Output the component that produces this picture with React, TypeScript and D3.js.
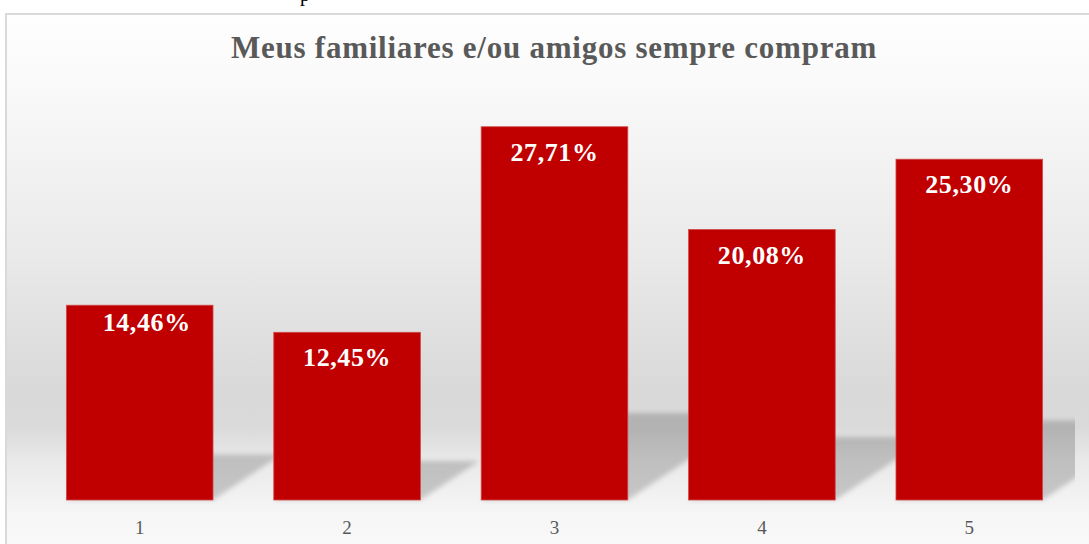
import React from "react";
import * as d3 from "d3";

const categories = ["1", "2", "3", "4", "5"];
const values = [14.46, 12.45, 27.71, 20.08, 25.3];
const valueLabels = ["14,46%", "12,45%", "27,71%", "20,08%", "25,30%"];
const title = "Meus familiares e/ou amigos sempre compram";

const W = 1089;
const H = 544;
const baseY = 500;

export default function App() {
  const x = d3
    .scaleBand<string>()
    .domain(categories)
    .range([36, 1073])
    .paddingInner(0.293)
    .paddingOuter(0.1465);
  const y = d3.scaleLinear().domain([0, 30]).range([baseY, baseY - 30 * 13.47]);
  const bw = x.bandwidth();

  const shadowPath = (i: number) => {
    const x0 = x(categories[i]) as number;
    const x1 = x0 + bw;
    const h = baseY - y(values[i]);
    const sh = h * 0.233;
    const dx = sh * 1.5;
    const p = d3.path();
    p.moveTo(x0, baseY);
    p.lineTo(x1, baseY);
    p.lineTo(x1 + dx, baseY - sh);
    p.lineTo(x0 + dx, baseY - sh);
    p.closePath();
    return p.toString();
  };

  const serif = "'Liberation Serif', 'Times New Roman', serif";

  return (
    <svg
      width={W}
      height={H}
      style={{ position: "absolute", left: 0, top: 0, background: "#fff" }}
    >
      <defs>
        <linearGradient id="bg" x1="0" y1="0" x2="0" y2="1">
          <stop offset="0" stopColor="#fefefe" />
          <stop offset="0.16" stopColor="#f8f8f8" />
          <stop offset="0.45" stopColor="#e9e9e9" />
          <stop offset="0.69" stopColor="#d9d9d9" />
          <stop offset="0.76" stopColor="#dadada" />
          <stop offset="0.82" stopColor="#e9e9e9" />
          <stop offset="0.92" stopColor="#f6f6f6" />
          <stop offset="1" stopColor="#fafafa" />
        </linearGradient>
        <filter id="blur" x="-20%" y="-20%" width="140%" height="140%">
          <feGaussianBlur stdDeviation="2.5" />
        </filter>
        <clipPath id="plotClip">
          <rect x={6} y={14} width={1069} height={530} />
        </clipPath>
      </defs>
      <text x={300} y={1} fontFamily={serif} fontSize={20} fill="#000">
        p
      </text>
      <rect
        x={6}
        y={14}
        width={W + 10}
        height={H}
        fill="url(#bg)"
        stroke="#d9d9d9"
        strokeWidth={2}
      />
      <text
        x={554}
        y={58}
        textAnchor="middle"
        fontFamily={serif}
        fontWeight="bold"
        fontSize={31}
        letterSpacing={0.75}
        fill="#595959"
      >
        {title}
      </text>
      <g clipPath="url(#plotClip)">
        <g filter="url(#blur)">
          {categories.map((c, i) => (
            <path key={c} d={shadowPath(i)} fill="#000" fillOpacity={0.18} />
          ))}
        </g>
      </g>
      {categories.map((c, i) => (
        <rect
          key={c}
          x={x(c)}
          y={y(values[i])}
          width={bw}
          height={baseY - y(values[i])}
          fill="#c00000"
          stroke="#d24a4a"
          strokeWidth={0.8}
        />
      ))}
      {categories.map((c, i) => (
        <text
          key={c}
          x={(x(c) as number) + bw / 2 + (i === 0 ? 7 : 0)}
          y={y(values[i]) + (i === 0 ? 26 : 34)}
          textAnchor="middle"
          fontFamily={serif}
          fontWeight="bold"
          fontSize={26}
          letterSpacing={0.6}
          fill="#ffffff"
        >
          {valueLabels[i]}
        </text>
      ))}
      {categories.map((c) => (
        <text
          key={c}
          x={(x(c) as number) + bw / 2}
          y={534}
          textAnchor="middle"
          fontFamily={serif}
          fontSize={19}
          fill="#595959"
        >
          {c}
        </text>
      ))}
    </svg>
  );
}
